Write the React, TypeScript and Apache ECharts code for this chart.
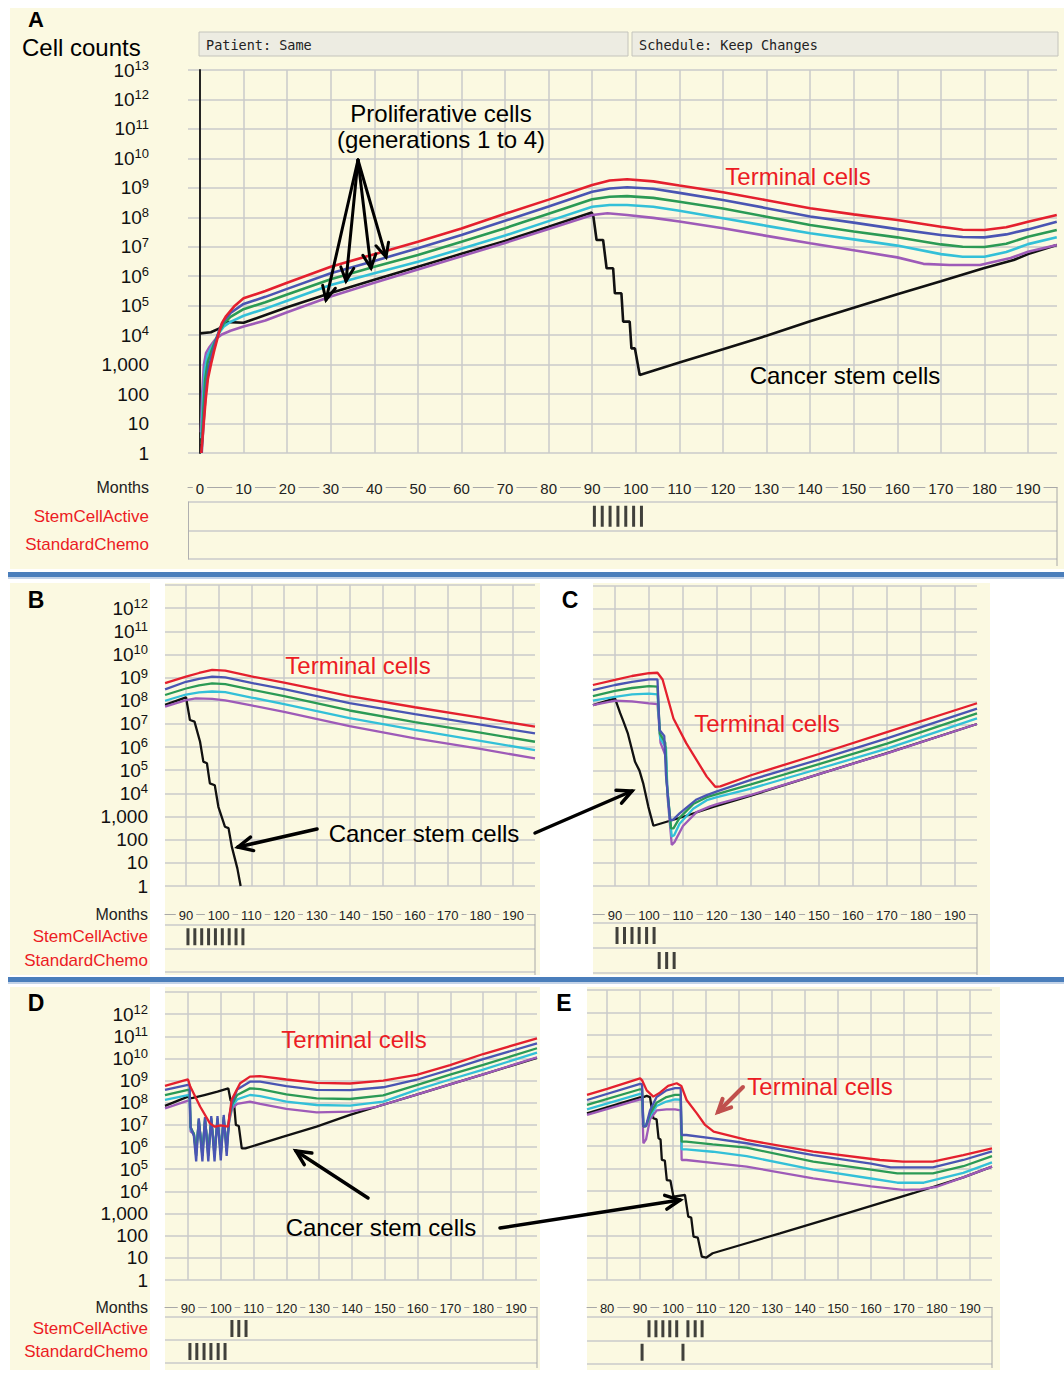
import React, { useEffect, useRef } from 'react';
import * as echarts from 'echarts';

type Pt = [number, number]; // [month, log10(cell count)]

// ---------------- Panel A ----------------
const aRed: Pt[] = [[0.3,0],[0.8,0.9],[1.3,1.8],[1.8,2.5],[2.5,3.0],[3.3,3.5],[4.2,4.0],[5.0,4.4],[6.0,4.65],[8.0,5.0],[10,5.25],[15,5.5],[20,5.78],[30,6.32],[40,6.75],[50,7.17],[60,7.62],[70,8.12],[80,8.6],[90,9.1],[94,9.25],[98,9.29],[104,9.22],[110,9.08],[120,8.85],[130,8.58],[140,8.31],[150,8.1],[160,7.91],[170,7.68],[175,7.58],[180,7.57],[185,7.66],[190,7.85],[196.6,8.08]];
const aBlue: Pt[] = [[0.4,0],[0.9,1.2],[1.4,2.2],[2.0,2.9],[2.8,3.35],[3.6,3.8],[4.5,4.2],[5.5,4.5],[7,4.75],[10,5.06],[15,5.3],[20,5.57],[30,6.1],[40,6.52],[50,6.95],[60,7.4],[70,7.88],[80,8.37],[90,8.87],[94,8.98],[98,9.02],[104,8.97],[110,8.83],[120,8.59],[130,8.31],[140,8.03],[150,7.82],[160,7.6],[170,7.4],[175,7.33],[180,7.32],[185,7.42],[190,7.59],[196.6,7.85]];
const aGreen: Pt[] = [[0.4,0.3],[0.8,1.5],[1.2,2.5],[1.8,3.1],[2.6,3.45],[3.5,3.8],[4.5,4.15],[5.5,4.4],[7,4.62],[10,4.88],[15,5.12],[20,5.38],[30,5.9],[40,6.32],[50,6.72],[60,7.17],[70,7.63],[80,8.12],[90,8.61],[94,8.7],[98,8.72],[104,8.66],[110,8.53],[120,8.3],[130,8.02],[140,7.74],[150,7.52],[160,7.32],[170,7.08],[175,7.0],[180,6.99],[185,7.1],[190,7.34],[196.6,7.57]];
const aCyan: Pt[] = [[0.3,0.5],[0.7,1.8],[1.1,2.8],[1.7,3.3],[2.5,3.55],[3.5,3.8],[4.5,4.1],[5.5,4.3],[7,4.45],[10,4.66],[15,4.9],[20,5.17],[30,5.7],[40,6.1],[50,6.49],[60,6.93],[70,7.38],[80,7.87],[90,8.36],[94,8.42],[98,8.42],[104,8.36],[110,8.22],[120,7.97],[130,7.71],[140,7.46],[150,7.25],[160,7.04],[170,6.75],[175,6.66],[180,6.66],[185,6.82],[190,7.09],[196.6,7.32]];
const aPurple: Pt[] = [[0.2,0.7],[0.5,2.0],[0.9,3.0],[1.4,3.4],[2.2,3.6],[3.5,3.85],[5,4.02],[7,4.15],[10,4.29],[15,4.5],[20,4.78],[30,5.31],[40,5.78],[50,6.23],[60,6.68],[70,7.13],[80,7.6],[90,8.08],[93.5,8.14],[98,8.08],[104,7.98],[110,7.86],[120,7.63],[130,7.37],[140,7.12],[150,6.88],[160,6.64],[166,6.42],[172,6.38],[179,6.38],[186,6.62],[190,6.83],[196.6,7.06]];
const aBlack: Pt[] = [[0,4.06],[2.5,4.1],[4.6,4.24],[5.5,4.45],[10,4.42],[20,4.95],[30,5.43],[40,5.88],[50,6.32],[60,6.76],[70,7.2],[80,7.68],[89.9,8.16],[90.3,8.0],[91.0,7.23],[92.5,7.23],[93.3,6.27],[94.8,6.27],[95.2,5.42],[96.7,5.42],[97.1,4.46],[98.6,4.46],[99.0,3.55],[99.8,3.55],[100.9,2.65],[110,3.07],[120,3.52],[130,3.98],[140,4.47],[150,4.93],[160,5.39],[170,5.83],[179.8,6.27],[186.7,6.55],[190,6.75],[196.6,7.06]];
const aStemCellActive = [90.5, 92.3, 94.1, 95.9, 97.7, 99.5, 101.3];
const aStandardChemo: number[] = [];

// ---------------- Panel B ----------------
const bRed: Pt[] = [[83.6,8.76],[90,9.04],[94,9.2],[98,9.33],[102,9.3],[110,9.05],[120,8.78],[140,8.2],[160,7.72],[180,7.27],[196.7,6.88]];
const bBlue: Pt[] = [[83.6,8.49],[90,8.82],[94,8.95],[98,9.04],[102,9.01],[110,8.77],[120,8.5],[140,7.9],[160,7.42],[180,6.97],[196.7,6.59]];
const bGreen: Pt[] = [[83.6,8.25],[90,8.53],[94,8.66],[98,8.75],[102,8.72],[110,8.48],[120,8.2],[140,7.58],[160,7.08],[180,6.62],[196.7,6.23]];
const bCyan: Pt[] = [[83.6,8.0],[90,8.27],[94,8.36],[98,8.4],[102,8.37],[110,8.14],[120,7.86],[140,7.25],[160,6.74],[180,6.27],[196.7,5.87]];
const bPurple: Pt[] = [[83.6,7.75],[90,8.03],[93,8.1],[98,8.08],[102,8.02],[110,7.8],[120,7.52],[140,6.9],[160,6.38],[180,5.92],[196.7,5.51]];
const bBlack: Pt[] = [[83.6,7.82],[90,8.15],[91.2,7.17],[92.6,7.1],[94.3,6.23],[95.3,5.37],[96.4,5.3],[97.3,4.43],[98.8,4.35],[99.9,3.42],[101.9,2.56],[103,2.5],[104,1.7],[105.7,0.76],[106.7,0]];
const bStemCellActive = [90.6, 92.7, 94.8, 96.9, 99.0, 101.1, 103.2, 105.3, 107.4];
const bStandardChemo: number[] = [];

// ---------------- Panel C ----------------
const cRed: Pt[] = [[83.5,8.71],[90,8.93],[95,9.1],[100,9.22],[102.5,9.24],[104,8.95],[107.2,7.26],[111,6.18],[117,4.74],[119.5,4.3],[121,4.32],[130,4.8],[150,5.72],[170,6.67],[196.5,7.92]];
const cBlue: Pt[] = [[83.5,8.49],[90,8.71],[95,8.85],[100,8.95],[102.5,8.95],[103.1,6.76],[104.5,6.5],[105,4.8],[106.2,2.86],[107,2.86],[109,3.15],[114,3.75],[117,3.94],[120,4.1],[130,4.6],[150,5.48],[170,6.4],[196.5,7.69]];
const cGreen: Pt[] = [[83.5,8.23],[90,8.46],[95,8.58],[100,8.66],[102.5,8.64],[103.2,6.6],[104.8,6.2],[105.2,4.5],[106.5,2.5],[107.2,2.5],[109,2.95],[113,3.55],[117,3.85],[120,3.98],[130,4.4],[150,5.28],[170,6.17],[196.5,7.48]];
const cCyan: Pt[] = [[83.5,8.03],[90,8.2],[95,8.3],[100,8.34],[102.5,8.3],[103.3,6.4],[105,6.0],[105.4,4.2],[106.7,2.14],[107.4,2.2],[109,2.7],[113,3.35],[117,3.72],[120,3.85],[130,4.22],[150,5.08],[170,5.95],[196.5,7.26]];
const cPurple: Pt[] = [[83.5,7.84],[90,8.03],[95,8.0],[100,7.91],[102.5,7.88],[103.4,6.2],[105,5.6],[105.5,3.8],[106.7,1.78],[107.5,1.9],[110,2.6],[114,3.2],[118,3.45],[120,3.55],[130,3.95],[150,4.85],[170,5.75],[196.5,7.02]];
const cBlack: Pt[] = [[83.5,7.84],[90,8.13],[91.5,7.5],[92.5,7.12],[93.8,6.6],[94.4,6.25],[95.9,5.38],[97.2,5.0],[98.3,4.45],[99.8,3.44],[101.3,2.61],[110.1,3.0],[118.9,3.43],[130,3.92],[150,4.85],[170,5.76],[196.5,7.02]];
const cStemCellActive = [90.6, 92.8, 95.0, 97.1, 99.3, 101.5];
const cStandardChemo = [103.0, 105.2, 107.4];

// ---------------- Panel D ----------------
const dRed: Pt[] = [[83,8.76],[90,9.06],[90.7,8.73],[93.7,7.83],[96.7,7.07],[98.2,6.92],[100,6.98],[102.2,6.92],[103.3,8.13],[105.9,8.88],[108.9,9.18],[111.9,9.2],[120,9.05],[129.2,8.9],[139.4,8.87],[149.5,9.0],[159.7,9.26],[169.9,9.7],[180,10.2],[196.4,10.91]];
const dBlue: Pt[] = [[83,8.58],[90,8.81],[90.5,8.8],[90.8,6.9],[91.8,6.5],[92.5,5.35],[93.3,7.3],[94.4,5.35],[95.2,7.35],[96.2,5.35],[97.1,7.4],[98.1,5.35],[99.0,7.4],[100.0,5.4],[100.9,7.45],[101.8,5.6],[102.6,7.4],[103.5,8.05],[105,8.6],[108.9,8.95],[112,8.95],[120,8.75],[129.2,8.58],[139.4,8.57],[149.5,8.7],[159.7,9.04],[169.9,9.5],[180,9.97],[196.4,10.68]];
const dGreen: Pt[] = [[83,8.35],[90,8.58],[90.5,8.57],[90.8,6.9],[91.8,6.6],[92.5,5.6],[93.3,7.25],[94.4,5.6],[95.2,7.3],[96.2,5.6],[97.1,7.3],[98.1,5.6],[99.0,7.3],[100.0,5.65],[100.9,7.35],[101.8,5.8],[102.6,7.35],[103.5,7.95],[105,8.35],[108.9,8.65],[112,8.62],[120,8.38],[129.2,8.2],[139.4,8.17],[149.5,8.33],[159.7,8.8],[169.9,9.27],[180,9.71],[196.4,10.46]];
const dCyan: Pt[] = [[83,8.13],[90,8.35],[90.5,8.34],[90.8,6.8],[91.8,6.6],[92.5,5.8],[93.3,7.15],[94.4,5.8],[95.2,7.2],[96.2,5.8],[97.1,7.2],[98.1,5.8],[99.0,7.2],[100.0,5.85],[100.9,7.25],[101.8,6.0],[102.6,7.3],[103.5,7.85],[105,8.15],[108.9,8.35],[112,8.3],[120,8.05],[129.2,7.9],[139.4,7.87],[149.5,8.05],[159.7,8.58],[169.9,9.05],[180,9.5],[196.4,10.26]];
const dPurple: Pt[] = [[83,7.75],[90,8.1],[90.5,8.09],[90.8,6.7],[91.8,6.6],[92.5,6.0],[93.3,7.05],[94.4,6.0],[95.2,7.1],[96.2,6.0],[97.1,7.1],[98.1,6.0],[99.0,7.1],[100.0,6.05],[100.9,7.15],[101.8,6.2],[102.6,7.2],[103.5,7.75],[105,7.95],[108.9,8.05],[112,7.95],[120,7.72],[129.2,7.57],[139.4,7.6],[147.5,7.82],[159.7,8.37],[169.9,8.83],[180,9.28],[196.4,10.05]];
const dBlack: Pt[] = [[83,7.86],[90,8.28],[90.5,8.2],[91.5,8.22],[95,8.35],[99,8.5],[102.3,8.65],[103.0,8.1],[104.0,8.05],[104.6,7.0],[105.5,6.95],[106.4,5.94],[107.5,5.94],[119.1,6.47],[129.2,6.92],[139.4,7.45],[147.5,7.82],[159.7,8.37],[169.9,8.83],[180,9.28],[196.4,10.03]];
const dStemCellActive = [103.4, 105.5, 107.7];
const dStandardChemo = [90.6, 92.7, 94.9, 97.0, 99.2, 101.3];

// ---------------- Panel E ----------------
const eRed: Pt[] = [[73.9,8.3],[80,8.57],[90,9.04],[90.6,8.95],[92,8.5],[94,8.22],[96,8.4],[98.5,8.7],[101.1,8.82],[102.5,8.7],[104.1,8.07],[107.2,7.47],[109.7,6.95],[112.3,6.65],[122.3,6.28],[142.5,5.75],[162.7,5.38],[169.7,5.31],[178.8,5.31],[188,5.6],[196.7,5.9]];
const eBlue: Pt[] = [[73.9,8.07],[90,8.79],[90.6,8.78],[91,6.88],[91.8,6.9],[93,7.6],[95,8.2],[98,8.5],[100.6,8.6],[102.3,8.6],[102.6,6.5],[104,6.5],[112,6.35],[122.3,6.13],[142.5,5.6],[160,5.22],[166,5.05],[178.8,5.05],[188,5.38],[196.7,5.77]];
const eGreen: Pt[] = [[73.9,7.85],[90,8.55],[90.6,8.54],[91,6.88],[91.8,6.9],[93,7.45],[95,7.95],[98,8.2],[100.6,8.3],[102.3,8.3],[102.6,6.2],[104,6.2],[112,6.08],[122.3,5.93],[142.5,5.31],[160,4.95],[168,4.78],[178.8,4.78],[188,5.1],[196.7,5.55]];
const eCyan: Pt[] = [[73.9,7.65],[90,8.34],[90.6,8.33],[91,6.9],[91.8,6.95],[93,7.35],[95,7.8],[98,8.0],[100.6,8.1],[102.3,8.08],[102.6,5.86],[104,5.86],[112,5.75],[122.3,5.55],[142.5,4.95],[160,4.55],[168,4.36],[176,4.36],[188,4.8],[196.7,5.27]];
const ePurple: Pt[] = [[73.9,7.4],[90,8.1],[90.6,8.09],[91,6.13],[91.8,6.3],[93,7.2],[95,7.6],[98,7.65],[100.6,7.65],[102.3,7.6],[102.6,5.38],[104,5.38],[112,5.25],[122.3,5.08],[142.5,4.56],[160,4.2],[169.7,4.04],[175,4.06],[180,4.18],[188,4.6],[196.7,5.08]];
const eBlack: Pt[] = [[73.9,7.47],[90,8.19],[91,8.2],[92,8.25],[93,8.2],[94,7.25],[95,7.2],[95.6,6.35],[96.2,6.3],[96.6,5.38],[97.5,5.35],[98.1,4.48],[99.2,4.45],[100.1,3.74],[103.6,3.81],[104.6,2.84],[105.5,2.8],[106.2,1.94],[107.5,1.9],[108.7,1.05],[110,1.0],[112,1.2],[132.4,2.09],[152.6,2.99],[172.8,3.89],[179,4.18],[188,4.6],[196.7,5.08]];
const eStemCellActive = [92.7, 94.8, 96.9, 99.0, 101.1, 104.5, 106.7, 108.8];
const eStandardChemo = [90.6, 103.0];

// ---------------- Tick labels / categories ----------------
const aMonthTicks = [0, 10, 20, 30, 40, 50, 60, 70, 80, 90, 100, 110, 120, 130, 140, 150, 160, 170, 180, 190];
const bcdMonthTicks = [90, 100, 110, 120, 130, 140, 150, 160, 170, 180, 190];
const eMonthTicks = [80, 90, 100, 110, 120, 130, 140, 150, 160, 170, 180, 190];
const smallCountLabels = ['1', '10', '100', '1,000'];
const scheduleRows = ['StemCellActive', 'StandardChemo'];

// ---------------- Styles ----------------
const FONT = '"Liberation Sans", Arial, Helvetica, sans-serif';
const CREAM = '#FBF9E1';
const GRIDC = '#CACACA';
const LABEL_RED = '#EC1C24';
const COLORS: Record<string, string> = {
  red: '#E4202E', blue: '#4A55B3', green: '#2B9A55', cyan: '#33C0D8', purple: '#9E5BB8', black: '#111111',
};
const DRAW_ORDER = ['black', 'purple', 'cyan', 'green', 'blue', 'red'];

type Lines = Record<string, Pt[]>;
interface PanelCfg {
  plot: { left: number; top: number; width: number; height: number };
  xMin: number; xMax: number;
  ticks: number[];
  sched: { top: number; height: number; offset: number; markH: number; rightY2: number };
  yMode: 'all' | 'no13' | 'none';
  yMargin: number; sideGap: number;
  zeroAxis: boolean; schedLeftLine: boolean;
  monthFont: number; lineWidth: number;
  lines: Lines; stem: number[]; chemo: number[];
}

const panels: PanelCfg[] = [
  {
    plot: { left: 188, top: 70, width: 869, height: 383 }, xMin: -2.75, xMax: 196.65, ticks: aMonthTicks,
    sched: { top: 502, height: 57, offset: 15, markH: 21, rightY2: 566 },
    yMode: 'all', yMargin: 39, sideGap: 39, zeroAxis: true, schedLeftLine: true, monthFont: 15, lineWidth: 2.6,
    lines: { red: aRed, blue: aBlue, green: aGreen, cyan: aCyan, purple: aPurple, black: aBlack },
    stem: aStemCellActive, chemo: aStandardChemo,
  },
  {
    plot: { left: 165, top: 585, width: 370, height: 301 }, xMin: 83.58, xMax: 196.7, ticks: bcdMonthTicks,
    sched: { top: 925, height: 47, offset: 11, markH: 17, rightY2: 975 },
    yMode: 'no13', yMargin: 17, sideGap: 17, zeroAxis: false, schedLeftLine: false, monthFont: 13, lineWidth: 2.3,
    lines: { red: bRed, blue: bBlue, green: bGreen, cyan: bCyan, purple: bPurple, black: bBlack },
    stem: bStemCellActive, chemo: bStandardChemo,
  },
  {
    plot: { left: 593, top: 586, width: 384, height: 300 }, xMin: 83.53, xMax: 196.5, ticks: bcdMonthTicks,
    sched: { top: 923, height: 50, offset: 9, markH: 17, rightY2: 975 },
    yMode: 'none', yMargin: 17, sideGap: 17, zeroAxis: false, schedLeftLine: false, monthFont: 13, lineWidth: 2.3,
    lines: { red: cRed, blue: cBlue, green: cGreen, cyan: cCyan, purple: cPurple, black: cBlack },
    stem: cStemCellActive, chemo: cStandardChemo,
  },
  {
    plot: { left: 165, top: 992, width: 372, height: 288 }, xMin: 83.0, xMax: 196.4, ticks: bcdMonthTicks,
    sched: { top: 1317, height: 46, offset: 10, markH: 17, rightY2: 1368 },
    yMode: 'no13', yMargin: 17, sideGap: 17, zeroAxis: false, schedLeftLine: false, monthFont: 13, lineWidth: 2.3,
    lines: { red: dRed, blue: dBlue, green: dGreen, cyan: dCyan, purple: dPurple, black: dBlack },
    stem: dStemCellActive, chemo: dStandardChemo,
  },
  {
    plot: { left: 587, top: 990, width: 405, height: 290 }, xMin: 73.9, xMax: 196.7, ticks: eMonthTicks,
    sched: { top: 1317, height: 47, offset: 10, markH: 17, rightY2: 1368 },
    yMode: 'none', yMargin: 17, sideGap: 17, zeroAxis: false, schedLeftLine: false, monthFont: 13, lineWidth: 2.3,
    lines: { red: eRed, blue: eBlue, green: eGreen, cyan: eCyan, purple: ePurple, black: eBlack },
    stem: eStemCellActive, chemo: eStandardChemo,
  },
];

function arrow(x1: number, y1: number, x2: number, y2: number, color: string, width: number, head: number) {
  const a = Math.atan2(y2 - y1, x2 - x1);
  const s = 0.45;
  return [
    { type: 'line', z: 100, shape: { x1, y1, x2, y2 }, style: { stroke: color, lineWidth: width, lineCap: 'round' } },
    {
      type: 'polyline', z: 100,
      shape: { points: [[x2 - head * Math.cos(a - s), y2 - head * Math.sin(a - s)], [x2, y2], [x2 - head * Math.cos(a + s), y2 - head * Math.sin(a + s)]] },
      style: { stroke: color, lineWidth: width, fill: null, lineCap: 'round', lineJoin: 'miter' },
    },
  ];
}

function text(x: number, y: number, t: string, size: number, color: string, align = 'center', weight = 'normal', family = FONT) {
  return {
    type: 'text', z: 100, x, y,
    style: {
      text: t, fill: color, font: `${weight} ${size}px ${family}`,
      align, textAlign: align, verticalAlign: 'middle', textVerticalAlign: 'middle',
    },
  };
}

function rect(x: number, y: number, w: number, h: number, fill: string, z = -100, stroke?: string) {
  return { type: 'rect', z, shape: { x, y, width: w, height: h }, style: { fill, stroke: stroke || null, lineWidth: stroke ? 1 : 0 } };
}

function buildOption() {
  const grid: any[] = [];
  const xAxis: any[] = [];
  const yAxis: any[] = [];
  const series: any[] = [];
  const graphics: any[] = [];

  panels.forEach((p) => {
    const gi = grid.length;
    grid.push({ left: p.plot.left, top: p.plot.top, width: p.plot.width, height: p.plot.height, containLabel: false, outerBoundsMode: 'none' });
    grid.push({ left: p.plot.left, top: p.sched.top, width: p.plot.width, height: p.sched.height, containLabel: false, outerBoundsMode: 'none' });

    const xi = xAxis.length;
    xAxis.push({
      gridIndex: gi, type: 'value', min: p.xMin, max: p.xMax,
      axisLine: { show: false, onZero: false },
      axisTick: { show: false, customValues: p.ticks },
      axisLabel: { show: false, customValues: p.ticks },
      splitLine: { show: true, lineStyle: { color: GRIDC, width: 1.5 } },
    });
    xAxis.push({
      gridIndex: gi + 1, type: 'value', position: 'top', offset: p.sched.offset, min: p.xMin, max: p.xMax,
      axisLine: { show: true, onZero: false, lineStyle: { color: '#A8A8A8', width: 1 } },
      axisTick: { show: false, customValues: p.ticks },
      axisLabel: {
        show: true, customValues: p.ticks, margin: -(p.monthFont / 2 + 1), fontSize: p.monthFont, color: '#222',
        fontFamily: FONT, backgroundColor: CREAM, padding: [0, 3, 0, 3],
      },
      splitLine: { show: false },
      name: p.yMode !== 'none' ? 'Months' : '', nameLocation: 'start', nameGap: p.sideGap, nameMoveOverlap: false,
      nameTextStyle: { fontSize: 16, color: '#222', fontFamily: FONT, align: 'right', verticalAlign: 'middle' },
    });

    const yi = yAxis.length;
    const mode = p.yMode;
    yAxis.push({
      gridIndex: gi, type: 'value', min: 0, max: 13, interval: 1,
      axisLine: { show: p.zeroAxis, onZero: p.zeroAxis, lineStyle: { color: '#111', width: 1.8 } },
      axisTick: { show: false },
      splitLine: { show: true, lineStyle: { color: GRIDC, width: 1.5 } },
      axisLabel: {
        show: mode !== 'none', margin: p.yMargin, fontSize: 19, lineHeight: 22, color: '#111', fontFamily: FONT,
        formatter: (v: number) => {
          const e = Math.round(v);
          if (mode === 'no13' && e === 13) return '';
          return e < smallCountLabels.length ? smallCountLabels[e] : `10{s|${e}}`;
        },
        rich: { s: { fontSize: 13, lineHeight: 13, verticalAlign: 'top', color: '#111', fontFamily: FONT } },
      },
    });
    yAxis.push({
      gridIndex: gi + 1, type: 'category', data: scheduleRows, inverse: true,
      axisLine: { show: p.schedLeftLine, onZero: false, lineStyle: { color: '#B0B0B0', width: 1 } },
      axisTick: { show: false },
      axisLabel: { show: p.yMode !== 'none', margin: p.sideGap, fontSize: 17, color: LABEL_RED, fontFamily: FONT },
      splitLine: { show: true, interval: 0, lineStyle: { color: GRIDC, width: 1.5 } },
    });

    DRAW_ORDER.forEach((k) => {
      series.push({
        type: 'line', xAxisIndex: xi, yAxisIndex: yi, data: p.lines[k], showSymbol: false, symbol: 'none',
        lineStyle: { color: COLORS[k], width: p.lineWidth }, itemStyle: { color: COLORS[k] },
        silent: true, z: 3, clip: true, animation: false,
      });
    });
    series.push({
      type: 'scatter', xAxisIndex: xi + 1, yAxisIndex: yi + 1, symbol: 'rect', symbolSize: [3, p.sched.markH],
      itemStyle: { color: '#111' }, silent: true, animation: false,
      data: p.stem.map((m) => [m, 0]).concat(p.chemo.map((m) => [m, 1])),
    });

    const rx = p.plot.left + p.plot.width;
    const my = p.sched.top - p.sched.offset;
    graphics.push({ type: 'line', z: 5, shape: { x1: rx, y1: my, x2: rx, y2: p.sched.rightY2 }, style: { stroke: '#A8A8A8', lineWidth: 1 } });
  });

  // backgrounds
  graphics.push(rect(10, 8, 1054, 561, CREAM));
  graphics.push(rect(10, 583, 140, 392, CREAM));
  graphics.push(rect(165, 583, 375, 392, CREAM));
  graphics.push(rect(593, 583, 397, 392, CREAM));
  graphics.push(rect(10, 987, 140, 383, CREAM));
  graphics.push(rect(165, 987, 375, 383, CREAM));
  graphics.push(rect(587, 987, 413, 383, CREAM));
  // separators
  graphics.push(rect(8, 572, 1056, 5, '#4A7EBB', 1));
  graphics.push(rect(8, 577, 1056, 2, '#C3D3E8', 1));
  graphics.push(rect(8, 977, 1056, 5, '#4A7EBB', 1));
  graphics.push(rect(8, 982, 1056, 2, '#C3D3E8', 1));
  // header boxes
  graphics.push(rect(199, 32, 429, 24, '#EDECE2', 1, '#C4C4BC'));
  graphics.push(rect(632, 32, 426, 24, '#EDECE2', 1, '#C4C4BC'));
  graphics.push(text(206, 44.5, 'Patient: Same', 13.5, '#222', 'left', 'normal', '"DejaVu Sans Mono", monospace'));
  graphics.push(text(639, 44.5, 'Schedule: Keep Changes', 13.5, '#222', 'left', 'normal', '"DejaVu Sans Mono", monospace'));

  // panel letters & titles
  graphics.push(text(36, 19, 'A', 22, '#000', 'center', 'bold'));
  graphics.push(text(36, 600, 'B', 23, '#000', 'center', 'bold'));
  graphics.push(text(570, 600, 'C', 23, '#000', 'center', 'bold'));
  graphics.push(text(36, 1003, 'D', 23, '#000', 'center', 'bold'));
  graphics.push(text(564, 1003, 'E', 23, '#000', 'center', 'bold'));
  graphics.push(text(22, 47, 'Cell counts', 24, '#000', 'left'));

  // annotations
  graphics.push(text(441, 113, 'Proliferative cells', 24, '#000'));
  graphics.push(text(441, 139, '(generations 1 to 4)', 24, '#000'));
  graphics.push(text(798, 176, 'Terminal cells', 24, LABEL_RED));
  graphics.push(text(845, 375, 'Cancer stem cells', 24, '#000'));
  graphics.push(text(358, 665, 'Terminal cells', 24, LABEL_RED));
  graphics.push(text(424, 833, 'Cancer stem cells', 24, '#000'));
  graphics.push(text(767, 723, 'Terminal cells', 24, LABEL_RED));
  graphics.push(text(354, 1039, 'Terminal cells', 24, LABEL_RED));
  graphics.push(text(381, 1227, 'Cancer stem cells', 24, '#000'));
  graphics.push(text(820, 1086, 'Terminal cells', 24, LABEL_RED));

  [[326, 300], [346, 281], [371, 268], [386, 257]].forEach(([tx, ty]) => graphics.push(...arrow(358, 160, tx, ty, '#000', 3, 15)));
  graphics.push(...arrow(317, 829, 238, 847, '#000', 3.5, 16));
  graphics.push(...arrow(535, 833, 632, 791, '#000', 3.5, 16));
  graphics.push(...arrow(368, 1198, 296, 1151, '#000', 3.5, 16));
  graphics.push(...arrow(500, 1228, 680, 1200, '#000', 3.5, 16));
  graphics.push(...arrow(743, 1087, 718, 1112, '#C0504D', 4, 14));

  return {
    animation: false,
    backgroundColor: '#FFFFFF',
    grid, xAxis, yAxis, series,
    graphic: { elements: graphics },
  };
}

export default function App() {
  const ref = useRef<HTMLDivElement>(null);
  useEffect(() => {
    document.body.style.margin = '0';
    const chart = echarts.init(ref.current as HTMLDivElement, null, { renderer: 'svg' });
    chart.setOption(buildOption() as any);
    return () => chart.dispose();
  }, []);
  return <div ref={ref} style={{ width: 1064, height: 1389, position: 'absolute', left: 0, top: 0 }} />;
}
